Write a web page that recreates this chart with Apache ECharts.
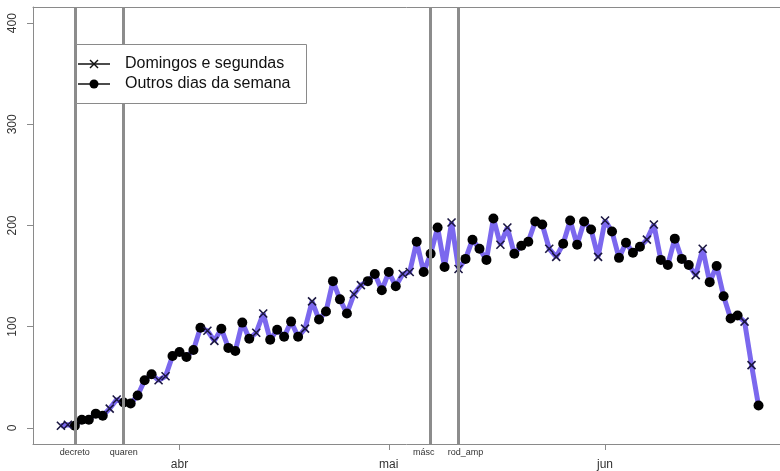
<!DOCTYPE html>
<html>
<head>
<meta charset="utf-8">
<script src="https://cdn.jsdelivr.net/npm/echarts@6/dist/echarts.min.js"></script>
<style>
  html, body { margin: 0; padding: 0; background: #fff; }
  #chart { width: 780px; height: 471px; }
</style>
</head>
<body>
<div id="chart"></div>
<script>
// Daily series, first day 2020-03-15, one value per day
const startDate = '2020-03-15';
const dailyValues = [
  2, 3, 2, 8, 8, 14, 12, 19, 28, 25,
  24, 32, 47, 53, 47, 51, 71, 75, 70, 77,
  99, 96, 86, 98, 79, 76, 104, 88, 94, 113,
  87, 97, 90, 105, 90, 98, 125, 107, 115, 145,
  127, 113, 132, 141, 145, 152, 136, 154, 140, 152,
  154, 184, 154, 172, 198, 159, 203, 157, 167, 186,
  177, 166, 207, 181, 198, 172, 180, 184, 204, 201,
  177, 169, 182, 205, 181, 204, 196, 169, 205, 194,
  168, 183, 173, 179, 186, 201, 166, 161, 187, 167,
  161, 151, 177, 144, 160, 130, 108, 111, 105, 62,
  22
];

// Month ticks on the date axis
const monthLabels = ['abr', 'mai', 'jun'];
const monthDates = ['2020-04-01', '2020-05-01', '2020-06-01'];

// Policy events marked by vertical lines
const eventLabels = ['decreto', 'quaren', 'másc', 'rod_amp'];
const eventDates = ['2020-03-17', '2020-03-24', '2020-05-07', '2020-05-11'];

// Value axis ticks
const yTicks = [0, 100, 200, 300, 400];

// Legend entries
const legendLabels = ['Domingos e segundas', 'Outros dias da semana'];

const DAY = 86400000;
const t0 = Date.UTC(2020, 2, 15);
function dayIndex(iso) {
  const p = iso.split('-').map(Number);
  return Math.round((Date.UTC(p[0], p[1] - 1, p[2]) - t0) / DAY);
}
const base = dayIndex(startDate);

const allPoints = [];
const sunMon = [];
const otherDays = [];
dailyValues.forEach((v, i) => {
  const d = base + i;
  const wd = new Date(t0 + d * DAY).getUTCDay();
  allPoints.push([d, v]);
  if (wd === 0 || wd === 1) sunMon.push([d, v]); else otherDays.push([d, v]);
});

const monthDays = monthDates.map(dayIndex);
const eventDays = eventDates.map(dayIndex);

// Day range of the plot box (the box runs off the right edge of the canvas)
const xMin = -4;
const xMax = 103.08;

const font = '"Liberation Sans", Arial, Helvetica, sans-serif';
const frame = '#8a8a8a';

// The two close labels on the right are nudged apart so they stay readable
function eventLabel(v) {
  const i = eventDays.indexOf(Math.round(v));
  if (i < 0) return '';
  if (i === 2) return '{l|' + eventLabels[i] + '}';
  if (i === 3) return '{r|' + eventLabels[i] + '}';
  return eventLabels[i];
}

const chart = echarts.init(document.getElementById('chart'), null, { renderer: 'canvas' });

// Legend drawn on top of the event lines
const LZ = 100;
const legendItems = [
  { type: 'rect', z: LZ, shape: { x: 76.5, y: 44.5, width: 230, height: 59 },
    style: { fill: '#fff', stroke: frame, lineWidth: 1 } },
  { type: 'line', z: LZ + 1, shape: { x1: 78, y1: 64, x2: 110, y2: 64 },
    style: { stroke: '#111', lineWidth: 1.5 } },
  { type: 'line', z: LZ + 1, shape: { x1: 90, y1: 60, x2: 98, y2: 68 },
    style: { stroke: '#111', lineWidth: 1.5 } },
  { type: 'line', z: LZ + 1, shape: { x1: 98, y1: 60, x2: 90, y2: 68 },
    style: { stroke: '#111', lineWidth: 1.5 } },
  { type: 'line', z: LZ + 1, shape: { x1: 78, y1: 84, x2: 110, y2: 84 },
    style: { stroke: '#111', lineWidth: 1.5 } },
  { type: 'circle', z: LZ + 1, shape: { cx: 94, cy: 84, r: 4.5 },
    style: { fill: '#000' } },
  { type: 'text', z: LZ + 1, x: 125, y: 64,
    style: { text: legendLabels[0], font: '16px ' + font, fill: '#111', verticalAlign: 'middle' } },
  { type: 'text', z: LZ + 1, x: 125, y: 84,
    style: { text: legendLabels[1], font: '16px ' + font, fill: '#111', verticalAlign: 'middle' } }
];

chart.setOption({
  animation: false,
  backgroundColor: '#ffffff',
  textStyle: { fontFamily: font },
  grid: { left: 33, top: 7, right: 0, bottom: 27, show: false, outerBoundsMode: 'none' },
  xAxis: [
    {
      type: 'value', min: xMin, max: xMax,
      splitLine: { show: false },
      axisLine: { show: true, onZero: false, lineStyle: { color: frame, width: 1 } },
      axisTick: { show: true, customValues: monthDays, length: 6, lineStyle: { color: frame } },
      axisLabel: {
        customValues: monthDays, hideOverlap: false,
        formatter: v => monthLabels[monthDays.indexOf(Math.round(v))] || '',
        fontSize: 12, color: '#333', margin: 15, fontFamily: font
      }
    },
    {
      type: 'value', min: xMin, max: xMax, position: 'bottom',
      splitLine: { show: false },
      axisLine: { show: false, onZero: false },
      axisTick: { show: false },
      axisLabel: {
        customValues: eventDays, hideOverlap: false,
        formatter: eventLabel,
        fontSize: 9, color: '#333', margin: 4, fontFamily: font,
        rich: {
          l: { fontSize: 9, color: '#333', fontFamily: font, padding: [0, 14, 0, 0] },
          r: { fontSize: 9, color: '#333', fontFamily: font, padding: [0, 0, 0, 14] }
        }
      }
    },
    {
      type: 'value', min: xMin, max: xMax, position: 'top',
      splitLine: { show: false },
      axisLine: { show: true, onZero: false, lineStyle: { color: frame, width: 1 } },
      axisTick: { show: false },
      axisLabel: { show: false }
    }
  ],
  yAxis: {
    type: 'value', min: -16, max: 416,
    splitLine: { show: false },
    axisLine: { show: true, onZero: false, lineStyle: { color: frame, width: 1 } },
    axisTick: { show: true, customValues: yTicks, length: 6, lineStyle: { color: frame } },
    axisLabel: {
      customValues: yTicks, rotate: 90, fontSize: 12, color: '#333', margin: 14, fontFamily: font
    }
  },
  series: [
    {
      type: 'line',
      data: allPoints,
      symbol: 'none',
      lineStyle: { color: '#7B68EE', width: 5 },
      z: 2,
      markLine: {
        silent: true,
        symbol: ['none', 'none'],
        label: { show: false },
        lineStyle: { color: '#8c8c8c', width: 3, type: 'solid' },
        data: eventDays.map(d => ({ xAxis: d }))
      }
    },
    {
      name: legendLabels[1],
      type: 'scatter',
      data: otherDays,
      symbol: 'circle',
      symbolSize: 10,
      itemStyle: { color: '#000', opacity: 1 },
      z: 4
    },
    {
      name: legendLabels[0],
      type: 'scatter',
      data: sunMon,
      symbol: 'path://M0,0L10,10M10,0L0,10',
      symbolSize: 8,
      itemStyle: { color: 'none', borderColor: '#1a1640', borderWidth: 1.6, opacity: 1 },
      z: 4
    }
  ],
  graphic: legendItems
});
</script>
</body>
</html>
